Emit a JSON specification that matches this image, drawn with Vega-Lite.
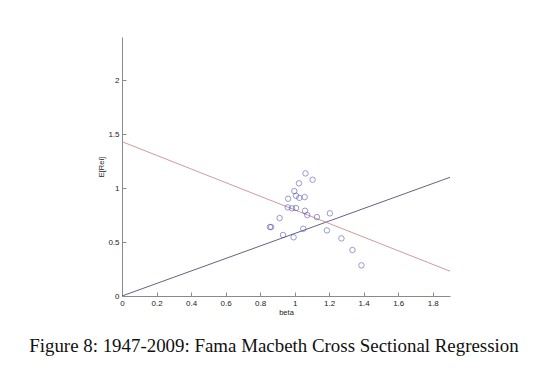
{
  "$schema": "https://vega.github.io/schema/vega-lite/v6.json",
  "width": 328,
  "height": 259,
  "autosize": "none",
  "padding": {"left": 122, "top": 37, "right": 90, "bottom": 76},
  "background": "white",
  "title": {
    "text": "Figure 8: 1947-2009: Fama Macbeth Cross Sectional Regression",
    "orient": "bottom",
    "anchor": "middle",
    "font": "Liberation Serif",
    "fontSize": 18.9,
    "fontWeight": "normal",
    "color": "#111",
    "offset": 21,
    "frame": "bounds"
  },
  "config": {
    "view": {"stroke": null},
    "axis": {
      "grid": false,
      "domainColor": "#8a8a8a",
      "tickColor": "#8a8a8a",
      "labelFont": "Liberation Sans",
      "labelFontSize": 8,
      "labelColor": "#222",
      "titleFont": "Liberation Sans",
      "titleFontSize": 7.5,
      "titleFontWeight": "normal",
      "titleColor": "#222"
    }
  },
  "datasets": {
    "pts": [
      {"beta": 1.063, "ER": 1.136},
      {"beta": 1.104, "ER": 1.077},
      {"beta": 1.025, "ER": 1.044},
      {"beta": 0.998, "ER": 0.972},
      {"beta": 1.008, "ER": 0.929},
      {"beta": 1.027, "ER": 0.910},
      {"beta": 1.058, "ER": 0.917},
      {"beta": 0.962, "ER": 0.901},
      {"beta": 0.960, "ER": 0.821},
      {"beta": 0.985, "ER": 0.812},
      {"beta": 1.008, "ER": 0.815},
      {"beta": 1.060, "ER": 0.790},
      {"beta": 1.073, "ER": 0.750},
      {"beta": 1.129, "ER": 0.731},
      {"beta": 1.204, "ER": 0.766},
      {"beta": 0.913, "ER": 0.722},
      {"beta": 0.857, "ER": 0.639},
      {"beta": 0.864, "ER": 0.639},
      {"beta": 1.050, "ER": 0.623},
      {"beta": 0.933, "ER": 0.565},
      {"beta": 0.994, "ER": 0.544},
      {"beta": 1.187, "ER": 0.608},
      {"beta": 1.271, "ER": 0.534},
      {"beta": 1.335, "ER": 0.426},
      {"beta": 1.387, "ER": 0.284}
    ],
    "lines": [
      {"beta": 0, "ER": 0, "line": "theory"},
      {"beta": 1.9, "ER": 1.1, "line": "theory"},
      {"beta": 0, "ER": 1.43, "line": "fit"},
      {"beta": 1.9, "ER": 0.23, "line": "fit"}
    ]
  },
  "encoding": {
    "x": {"field": "beta", "type": "quantitative", "scale": {"domain": [0, 1.9], "nice": false},
          "axis": {"values": [0, 0.2, 0.4, 0.6, 0.8, 1, 1.2, 1.4, 1.6, 1.8], "format": "~g", "labelOverlap": false, "tickSize": -4, "labelPadding": 7, "title": "beta", "titlePadding": 1, "labelFlush": false}},
    "y": {"field": "ER", "type": "quantitative", "scale": {"domain": [0, 2.4], "nice": false},
          "axis": {"values": [0, 0.5, 1, 1.5, 2], "format": "~g", "labelOverlap": false, "tickSize": -4, "labelPadding": 7, "title": "E[Rei]", "titlePadding": 2, "labelFlush": false}}
  },
  "layer": [
    {
      "data": {"name": "lines"},
      "mark": {"type": "line", "strokeWidth": 0.9, "clip": true},
      "encoding": {
        "detail": {"field": "line"},
        "color": {"field": "line", "type": "nominal", "scale": {"domain": ["theory", "fit"], "range": ["#505078", "#c89090"]}, "legend": null}
      }
    },
    {
      "data": {"name": "pts"},
      "mark": {"type": "point", "shape": "circle", "filled": false, "size": 30, "strokeWidth": 0.8, "color": "#4b4bb0"},
      "encoding": {}
    }
  ]
}
